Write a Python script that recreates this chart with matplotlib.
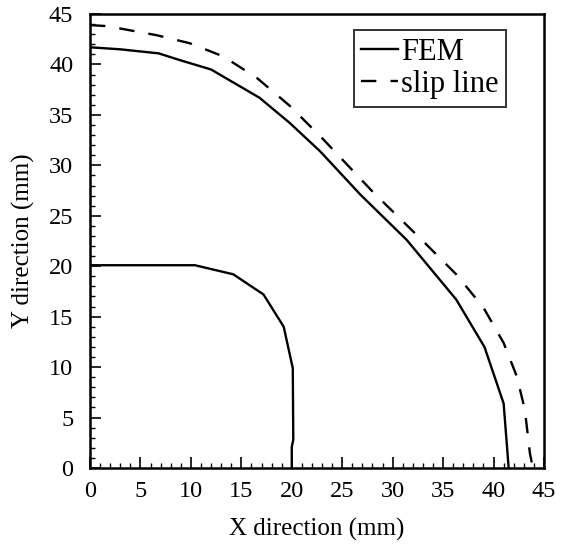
import matplotlib
matplotlib.use("Agg")
import matplotlib.pyplot as plt
import matplotlib.ticker as ticker

# outer boundary from the FEM run
fem_outer_x = [0, 3, 6.8, 9, 12, 14.4, 16.8, 19.8, 22.8, 26.8, 31.4, 36.3, 39.1, 41.0, 41.5]
fem_outer_y = [41.7, 41.5, 41.1, 40.4, 39.5, 38.1, 36.7, 34.2, 31.4, 27.1, 22.6, 16.7, 12.0, 6.4, 0]

# inner boundary from the FEM run
fem_inner_x = [0, 5, 10.4, 14.2, 17.2, 19.2, 20.1, 20.15, 20.0, 20.0]
fem_inner_y = [20.1, 20.1, 20.1, 19.2, 17.2, 14.0, 9.9, 2.8, 2.1, 0]

# slip line solution
slip_x = [0, 1.7, 6.6, 9.9, 13.2, 16.5, 19.8, 23.1, 26.4, 28.1, 33.0, 36.3, 39.0, 41.0, 42.3, 43.1, 43.6, 43.9]
slip_y = [43.9, 43.8, 42.9, 42.1, 40.8, 38.7, 35.9, 32.6, 29.1, 27.3, 22.5, 19.2, 15.9, 12.4, 9.1, 5.8, 1.5, 0]

ticks = [0, 5, 10, 15, 20, 25, 30, 35, 40, 45]

plt.rcParams['font.family'] = ['Liberation Serif', 'DejaVu Serif']

fig = plt.figure(figsize=(5.65, 5.47), dpi=100)
ax = fig.add_axes([0.1593, 0.1444, 0.8035, 0.8300])

ax.plot(fem_outer_x, fem_outer_y, color='black', lw=1.7, label='FEM')
ax.plot(fem_inner_x, fem_inner_y, color='black', lw=1.7)
ax.plot(slip_x, slip_y, color='black', lw=1.7, dashes=(6.5, 6), label='slip line')

ax.set_xlim(0, 45)
ax.set_ylim(0, 45)
ax.set_xticks(ticks)
ax.set_yticks(ticks)
ax.xaxis.set_minor_locator(ticker.MultipleLocator(1))
ax.yaxis.set_minor_locator(ticker.MultipleLocator(1))
ax.tick_params(which='major', direction='in', length=8, width=1.2, labelsize=17.5)
ax.tick_params(axis='x', which='major', pad=9)
ax.tick_params(axis='y', which='major', pad=12)
ax.tick_params(which='minor', direction='in', length=3.5, width=1.0)
ax.tick_params(top=False, right=False, which='both')
for s in ax.spines.values():
    s.set_linewidth(1.8)

ax.set_xlabel('X direction (mm)', fontsize=18, labelpad=12)
ax.set_ylabel('Y direction (mm)', fontsize=18, labelpad=10)

leg = ax.legend(loc='upper right', bbox_to_anchor=(0.917, 0.964), fontsize=22,
                frameon=True, fancybox=False, edgecolor='black', handlelength=1.2,
                handletextpad=0.1, borderpad=0.25, labelspacing=0.1, borderaxespad=0)
leg.get_frame().set_linewidth(1.4)

fig.savefig('out.png', dpi=100)
